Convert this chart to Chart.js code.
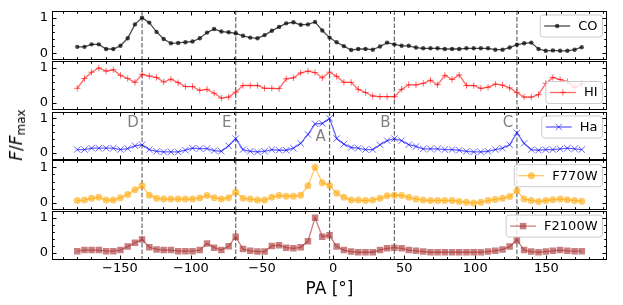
<!DOCTYPE html>
<html><head><meta charset="utf-8">
<script src="https://cdn.jsdelivr.net/npm/chart.js@4.4.1/dist/chart.umd.min.js"></script>
<style>
html,body{margin:0;padding:0;background:#fff;}
#wrap{position:relative;width:623px;height:305px;overflow:hidden;background:#fff;}
#wrap canvas{position:absolute;left:0;}
#ylab{position:absolute;left:17px;top:135px;transform:translate(-50%,-50%) rotate(-90deg);font-family:"DejaVu Sans";font-size:17px;white-space:nowrap;color:#000;z-index:5;}
#ylab sub{font-style:normal;font-size:12px;vertical-align:-3px;}
</style></head><body>
<div id="wrap"><div id="ylab"><i>F</i>/<i>F</i><sub>max</sub></div></div>
<script>
// ---- data ----
const PA = [-180.0,-174.9,-169.9,-164.8,-159.7,-154.6,-149.6,-144.5,-139.4,-134.4,
  -129.3,-124.2,-119.2,-114.1,-109.0,-103.9,-98.9,-93.8,-88.7,-83.7,
  -78.6,-73.5,-68.5,-63.4,-58.3,-53.2,-48.2,-43.1,-38.0,-33.0,
  -27.9,-22.8,-17.7,-12.7,-7.6,-2.5,2.5,7.6,12.7,17.7,
  22.8,27.9,33.0,38.0,43.1,48.2,53.2,58.3,63.4,68.5,
  73.5,78.6,83.7,88.7,93.8,98.9,103.9,109.0,114.1,119.2,
  124.2,129.3,134.4,139.4,144.5,149.6,154.6,159.7,164.8,169.9,174.9];
const CO = [0.18,0.18,0.25,0.25,0.12,0.12,0.21,0.42,0.81,1.00,
  0.86,0.60,0.40,0.28,0.29,0.31,0.33,0.42,0.58,0.68,
  0.61,0.59,0.56,0.49,0.44,0.42,0.51,0.63,0.74,0.84,
  0.87,0.80,0.81,0.88,0.64,0.44,0.31,0.20,0.09,0.12,
  0.12,0.10,0.19,0.30,0.25,0.21,0.21,0.16,0.14,0.14,
  0.14,0.12,0.12,0.12,0.14,0.14,0.14,0.14,0.10,0.10,
  0.16,0.24,0.28,0.30,0.12,0.07,0.08,0.07,0.07,0.10,0.17];
const HI = [0.42,0.70,0.88,1.00,0.91,0.95,0.79,0.70,0.59,0.82,
  0.77,0.73,0.60,0.68,0.58,0.47,0.47,0.36,0.39,0.28,
  0.14,0.17,0.31,0.50,0.50,0.50,0.42,0.42,0.41,0.69,
  0.72,0.86,0.91,0.87,0.72,0.88,0.76,0.59,0.59,0.39,
  0.30,0.20,0.18,0.18,0.18,0.39,0.52,0.52,0.56,0.65,
  0.52,0.79,0.67,0.80,0.50,0.50,0.42,0.45,0.54,0.51,
  0.43,0.30,0.17,0.17,0.24,0.56,0.73,0.67,0.61,0.45,0.55];
const Ha = [0.09,0.09,0.13,0.13,0.13,0.13,0.09,0.12,0.20,0.23,
  0.09,0.04,0.02,0.02,0.02,0.07,0.13,0.12,0.12,0.06,
  0.04,0.20,0.41,0.09,0.04,0.02,0.04,0.09,0.07,0.07,
  0.13,0.27,0.53,0.84,0.85,1.00,0.41,0.25,0.15,0.13,
  0.09,0.09,0.23,0.35,0.41,0.35,0.23,0.18,0.11,0.11,
  0.11,0.09,0.09,0.07,0.04,0.02,0.02,0.04,0.09,0.13,
  0.23,0.58,0.27,0.09,0.07,0.09,0.09,0.11,0.13,0.11,0.09];
const F770W = [0.07,0.08,0.13,0.16,0.08,0.08,0.15,0.24,0.37,0.48,
  0.22,0.13,0.11,0.11,0.11,0.11,0.11,0.14,0.21,0.15,
  0.11,0.15,0.30,0.13,0.11,0.08,0.08,0.16,0.21,0.19,
  0.19,0.22,0.48,1.00,0.57,0.49,0.27,0.16,0.08,0.08,
  0.07,0.08,0.13,0.20,0.22,0.21,0.16,0.11,0.08,0.07,
  0.07,0.07,0.07,0.04,0.02,0.00,0.02,0.07,0.10,0.13,
  0.18,0.35,0.11,0.07,0.04,0.07,0.09,0.11,0.09,0.07,0.05];
const F2100W = [0.05,0.08,0.08,0.08,0.05,0.05,0.08,0.18,0.29,0.38,
  0.16,0.10,0.08,0.08,0.05,0.05,0.05,0.08,0.27,0.15,
  0.08,0.19,0.46,0.11,0.06,0.04,0.04,0.20,0.22,0.15,
  0.13,0.16,0.33,1.00,0.46,0.50,0.18,0.08,0.04,0.02,
  0.02,0.02,0.08,0.13,0.15,0.13,0.08,0.06,0.04,0.02,
  0.02,0.02,0.02,0.02,0.02,0.02,0.02,0.04,0.06,0.10,
  0.18,0.36,0.08,0.04,0.02,0.04,0.06,0.08,0.06,0.05,0.05];
const seriesNames = ['CO','HI','Ha','F770W','F2100W'];
const markerPA = [-134.4,-68.5,-2.5,43.1,129.3];
const markerLabels = ['D','E','A','B','C'];
const markerLabelY = [0.86,0.86,0.45,0.86,0.86];
const xTicks = [-150,-100,-50,0,50,100,150];
const yTicks = [0,1];

// ---- styles ----
const seriesData = [CO,HI,Ha,F770W,F2100W];
const styles = [
  {color:'rgba(0,0,0,0.7)', point:'circle', r:2.2, pbw:0},
  {color:'rgba(255,0,0,0.6)', point:'cross', r:3.2, pbw:1},
  {color:'rgba(0,0,255,0.6)', point:'crossRot', r:4.5, pbw:1},
  {color:'rgba(255,165,0,0.6)', point:'circle', r:3.5, pbw:0},
  {color:'rgba(165,42,42,0.6)', point:'rect', r:4.6, pbw:0}
];
const legendLoc = ['upper','lower','upper','upper','upper'];
const XMIN = -197.75, XMAX = 192.68, YMIN = -0.2, YMAX = 1.2;
const FONT = '"DejaVu Sans"';

function marker(ctx, style, r, x, y, bw) {
  ctx.beginPath();
  if (style === 'circle') { ctx.arc(x, y, r, 0, Math.PI*2); ctx.fill(); }
  else if (style === 'rect') { const s = r*Math.SQRT1_2; ctx.rect(x-s, y-s, 2*s, 2*s); ctx.fill(); }
  else if (style === 'cross') { ctx.lineWidth = bw; ctx.moveTo(x-r,y); ctx.lineTo(x+r,y); ctx.moveTo(x,y-r); ctx.lineTo(x,y+r); ctx.stroke(); }
  else if (style === 'crossRot') { const o = r*Math.SQRT1_2; ctx.lineWidth = bw; ctx.moveTo(x-o,y-o); ctx.lineTo(x+o,y+o); ctx.moveTo(x-o,y+o); ctx.lineTo(x+o,y-o); ctx.stroke(); }
}

function rrect(ctx, x, y, w, h, r) {
  ctx.beginPath();
  ctx.moveTo(x+r, y); ctx.lineTo(x+w-r, y); ctx.arcTo(x+w, y, x+w, y+r, r);
  ctx.lineTo(x+w, y+h-r); ctx.arcTo(x+w, y+h, x+w-r, y+h, r);
  ctx.lineTo(x+r, y+h); ctx.arcTo(x, y+h, x, y+h-r, r);
  ctx.lineTo(x, y+r); ctx.arcTo(x, y, x+r, y, r); ctx.closePath();
}

const deco = {
  id: 'deco',
  beforeDatasetsDraw(chart) {
    const ctx = chart.ctx, a = chart.chartArea, xs = chart.scales.x;
    ctx.save();
    ctx.strokeStyle = 'rgba(0,0,0,0.6)'; ctx.lineWidth = 1.2; ctx.setLineDash([4.5, 2]);
    markerPA.forEach(v => { const px = xs.getPixelForValue(v); ctx.beginPath(); ctx.moveTo(px, a.top); ctx.lineTo(px, a.bottom); ctx.stroke(); });
    ctx.restore();
  },
  afterDraw(chart, args, opts) {
    const ctx = chart.ctx, a = chart.chartArea, xs = chart.scales.x, ys = chart.scales.y;
    const i = opts.index, st = styles[i];
    ctx.save();
    // letters
    if (opts.letters) {
      ctx.font = '15px ' + FONT; ctx.fillStyle = 'rgba(0,0,0,0.5)'; ctx.textAlign = 'center'; ctx.textBaseline = 'middle';
      markerPA.forEach((v, k) => ctx.fillText(markerLabels[k], xs.getPixelForValue(v - 6.3), ys.getPixelForValue(markerLabelY[k])));
    }
    // legend
    ctx.font = '13px ' + FONT;
    const label = seriesNames[i];
    const tw = ctx.measureText(label).width;
    const w = 4 + 26 + 8 + tw + 5, h = 22;
    const x0 = a.right - 4.5 - w;
    const y0 = legendLoc[i] === 'lower' ? a.bottom - 6.5 - h : a.top + 4.5;
    rrect(ctx, x0, y0, w, h, 3);
    ctx.fillStyle = 'rgba(255,255,255,0.8)'; ctx.fill();
    ctx.strokeStyle = '#cccccc'; ctx.lineWidth = 1; ctx.stroke();
    const ly = y0 + h/2;
    ctx.strokeStyle = st.color; ctx.lineWidth = 1.3;
    ctx.beginPath(); ctx.moveTo(x0+4, ly); ctx.lineTo(x0+30, ly); ctx.stroke();
    ctx.fillStyle = st.color; ctx.strokeStyle = st.color;
    marker(ctx, st.point, st.r, x0+17, ly, st.pbw);
    ctx.fillStyle = '#000'; ctx.textAlign = 'left'; ctx.textBaseline = 'middle';
    ctx.fillText(label, x0+38, ly + 0.5);
    // frame
    ctx.strokeStyle = '#000'; ctx.lineWidth = 1;
    const L = Math.round(a.left)+0.5, R = Math.round(a.right)-0.5, T = Math.round(a.top)+0.5, B = Math.round(a.bottom)-0.5;
    ctx.strokeRect(L, T, R-L, B-T);
    // x ticks (inward, top and bottom)
    ctx.beginPath();
    for (let v = -190; v <= 190; v += 10) {
      const px = Math.round(xs.getPixelForValue(v)) + 0.5;
      if (px < L || px > R) continue;
      const len = v % 50 === 0 ? 4 : 2.3;
      ctx.moveTo(px, B); ctx.lineTo(px, B - len);
      ctx.moveTo(px, T); ctx.lineTo(px, T + len);
    }
    for (let k = -1; k <= 6; k++) {
      const v = k * 0.2;
      const py = Math.round(ys.getPixelForValue(v)) + 0.5;
      if (py < T - 0.1 || py > B + 0.1) continue;
      const len = (k === 0 || k === 5) ? 4 : 2.3;
      ctx.moveTo(L, py); ctx.lineTo(L + len, py);
      ctx.moveTo(R, py); ctx.lineTo(R - len, py);
    }
    ctx.stroke();
    ctx.restore();
  }
};

function noPad(s) { s.paddingTop = 0; s.paddingBottom = 0; s.paddingLeft = 0; s.paddingRight = 0; }

const wrap = document.getElementById('wrap');
const panelTop = 10.5, panelH = 49.9;
for (let i = 0; i < 5; i++) {
  const T = panelTop + panelH * i, B = T + panelH;
  const bottomPanel = i === 4;
  const ct = Math.floor(T) - 4;
  const ch = bottomPanel ? 305 - ct : Math.ceil(B) + 4 - ct;
  const pt = T - ct;
  const pb = bottomPanel ? 0 : ch - (B - ct);
  const cv = document.createElement('canvas');
  cv.width = 623; cv.height = ch; cv.style.top = ct + 'px';
  wrap.appendChild(cv);
  const st = styles[i];
  const xScale = {
    type: 'linear', min: XMIN, max: XMAX, display: bottomPanel,
    grid: { display: false, drawTicks: false }, border: { display: false },
    afterBuildTicks: s => { s.ticks = xTicks.map(v => ({value: v})); },
    afterFit: s => { if (bottomPanel) s.height = 45; noPad(s); },
    ticks: { color: '#000', font: { family: 'DejaVu Sans', size: 13 }, padding: 1, maxRotation: 0,
      callback: v => (v < 0 ? '\u2212' + Math.abs(v) : String(v)) },
    title: { display: bottomPanel, text: 'PA [°]', color: '#000', font: { family: 'DejaVu Sans', size: 17 }, padding: { top: 0, bottom: 5 } }
  };
  new Chart(cv, {
    type: 'scatter',
    data: { datasets: [{
      label: seriesNames[i],
      data: PA.map((x, k) => ({x: x, y: seriesData[i][k]})),
      showLine: true,
      borderColor: st.color, backgroundColor: st.color,
      pointBackgroundColor: st.color, pointBorderColor: st.color,
      pointStyle: st.point, pointRadius: st.r, pointBorderWidth: st.pbw,
      borderWidth: 1.3, tension: 0
    }]},
    options: {
      responsive: false, animation: false, devicePixelRatio: 1,
      events: [],
      layout: { padding: { left: 0, right: 16, top: pt, bottom: pb } },
      plugins: { legend: { display: false }, tooltip: { enabled: false },
        deco: { index: i, letters: i === 2 } },
      scales: {
        x: xScale,
        y: {
          min: YMIN, max: YMAX,
          grid: { display: false, drawTicks: false }, border: { display: false },
          afterBuildTicks: s => { s.ticks = yTicks.map(v => ({value: v})); },
          afterFit: s => { s.width = 52; noPad(s); },
          ticks: { color: '#000', font: { family: 'DejaVu Sans', size: 13 }, padding: 4 }
        }
      }
    },
    plugins: [deco]
  });
}
</script>
</body></html>
